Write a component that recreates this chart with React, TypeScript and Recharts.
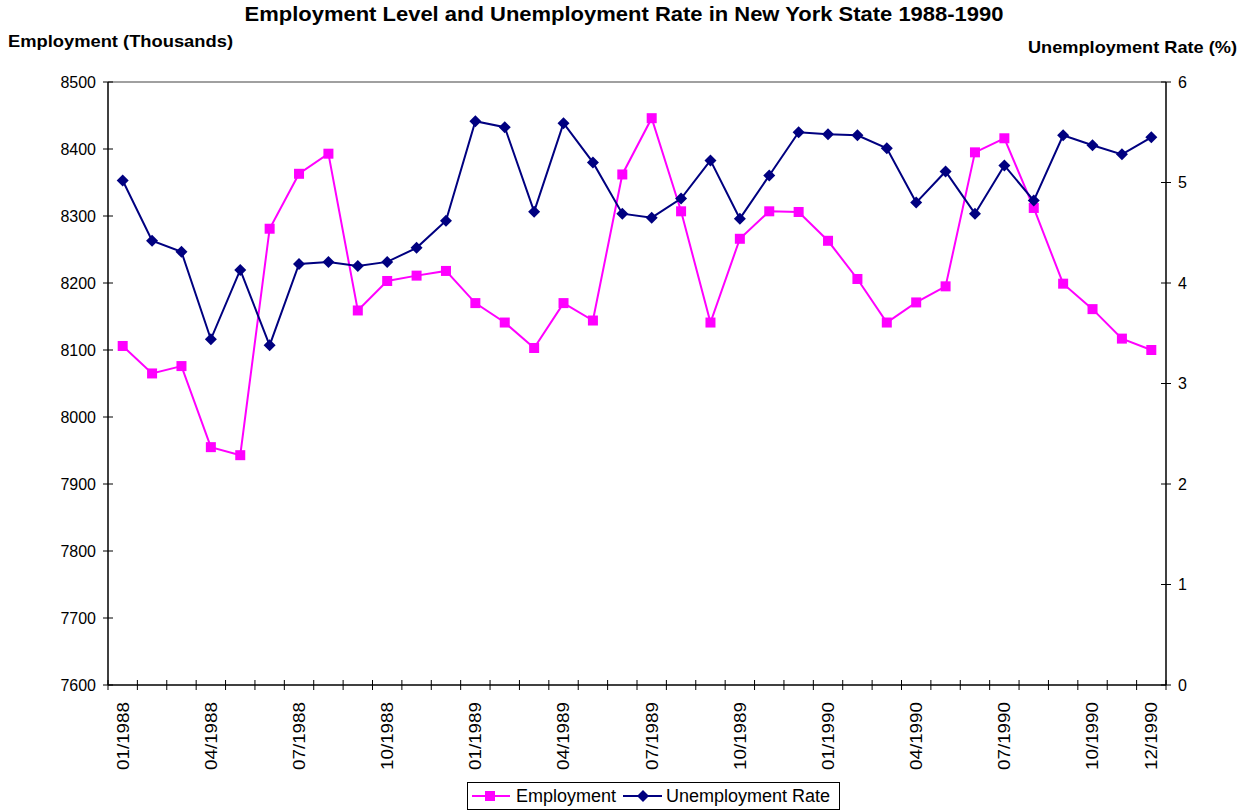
import React from 'react';
import { LineChart, Line, XAxis, YAxis, Legend, ReferenceLine } from 'recharts';

const months = [
  '01/1988', '02/1988', '03/1988', '04/1988', '05/1988', '06/1988',
  '07/1988', '08/1988', '09/1988', '10/1988', '11/1988', '12/1988',
  '01/1989', '02/1989', '03/1989', '04/1989', '05/1989', '06/1989',
  '07/1989', '08/1989', '09/1989', '10/1989', '11/1989', '12/1989',
  '01/1990', '02/1990', '03/1990', '04/1990', '05/1990', '06/1990',
  '07/1990', '08/1990', '09/1990', '10/1990', '11/1990', '12/1990',
];

const employment = [
  8106, 8065, 8076, 7955, 7943, 8281, 8363, 8393, 8159, 8203, 8211, 8218,
  8170, 8141, 8103, 8170, 8144, 8362, 8446, 8307, 8141, 8266, 8307, 8306,
  8263, 8206, 8141, 8171, 8195, 8395, 8416, 8312, 8199, 8161, 8117, 8100,
];

const unemploymentRate = [
  5.02, 4.42, 4.31, 3.44, 4.13, 3.38, 4.19, 4.21, 4.17, 4.21, 4.35, 4.62,
  5.61, 5.55, 4.71, 5.59, 5.2, 4.69, 4.65, 4.84, 5.22, 4.64, 5.07, 5.5,
  5.48, 5.47, 5.34, 4.8, 5.11, 4.69, 5.17, 4.82, 5.47, 5.37, 5.28, 5.45,
];

const labeledMonths = [
  '01/1988', '04/1988', '07/1988', '10/1988',
  '01/1989', '04/1989', '07/1989', '10/1989',
  '01/1990', '04/1990', '07/1990', '10/1990', '12/1990',
];

const leftTicks = [7600, 7700, 7800, 7900, 8000, 8100, 8200, 8300, 8400, 8500];
const rightTicks = [0, 1, 2, 3, 4, 5, 6];

const TITLE = 'Employment Level and Unemployment Rate in New York State 1988-1990';
const LEFT_TITLE = 'Employment (Thousands)';
const RIGHT_TITLE = 'Unemployment Rate (%)';

const data = months.map((m, i) => ({
  month: m,
  employment: employment[i],
  rate: unemploymentRate[i],
}));

const W = 1250;
const H = 812;
const LEFT_W = 108;
const RIGHT_W = 84;
const TOP = 82;
const XAXIS_H = 127;
const plotW = W - LEFT_W - RIGHT_W;
const step = plotW / months.length;
const FONT = '"Liberation Sans", Arial, Helvetica, sans-serif';
const PINK = '#FF00FF';
const NAVY = '#000080';
const AXIS = '#000000';
const X_TICK_SIZE = 5;
const X_TICK_MARGIN = 12;

const XTick = (props: any) => {
  const { x, y, payload, index } = props;
  const axisY = y - X_TICK_SIZE - X_TICK_MARGIN;
  const show = labeledMonths.includes(payload.value);
  return (
    <g>
      <line x1={x - step / 2} x2={x - step / 2} y1={axisY - 5} y2={axisY + 5} stroke={AXIS} strokeWidth={1} />
      {index === months.length - 1 && (
        <line x1={x + step / 2} x2={x + step / 2} y1={axisY - 5} y2={axisY + 5} stroke={AXIS} strokeWidth={1} />
      )}
      {show && (
        <text
          transform={`translate(${x},${y}) rotate(-90)`}
          textAnchor="end"
          dy="0.36em"
          fontFamily={FONT}
          fontSize={16.5}
          fill="#000"
          textLength={68}
          lengthAdjust="spacingAndGlyphs"
        >
          {payload.value}
        </text>
      )}
    </g>
  );
};

const LeftTick = (props: any) => {
  const { x, y, payload } = props;
  return (
    <g>
      <line x1={x + 7} x2={x + 17} y1={y} y2={y} stroke={AXIS} strokeWidth={1} />
      <text x={x} y={y} dy="0.36em" textAnchor="end" fontFamily={FONT} fontSize={16} fill="#000">
        {payload.value}
      </text>
    </g>
  );
};

const RightTick = (props: any) => {
  const { x, y, payload } = props;
  return (
    <g>
      <line x1={x - 17} x2={x - 7} y1={y} y2={y} stroke={AXIS} strokeWidth={1} />
      <text x={x} y={y} dy="0.36em" textAnchor="start" fontFamily={FONT} fontSize={16} fill="#000">
        {payload.value}
      </text>
    </g>
  );
};

const SquareDot = (props: any) => {
  const { cx, cy, index } = props;
  if (cx == null || cy == null) return <g key={`s-${index}`} />;
  return <rect key={`s-${index}`} x={cx - 5} y={cy - 5} width={10} height={10} fill={PINK} stroke="none" />;
};

const DiamondDot = (props: any) => {
  const { cx, cy, index } = props;
  if (cx == null || cy == null) return <g key={`d-${index}`} />;
  return (
    <polygon
      key={`d-${index}`}
      points={`${cx},${cy - 6} ${cx + 6},${cy} ${cx},${cy + 6} ${cx - 6},${cy}`}
      fill={NAVY}
      stroke="none"
    />
  );
};

const LegendBox = () => (
  <div
    style={{
      boxSizing: 'border-box',
      width: 373,
      height: 28,
      border: '1px solid #000',
      background: '#fff',
      display: 'flex',
      alignItems: 'center',
      fontFamily: FONT,
      fontSize: 18,
      color: '#000',
      paddingLeft: 4,
      whiteSpace: 'nowrap',
    }}
  >
    <svg width={38} height={14} style={{ display: 'block' }}>
      <line x1={0} x2={38} y1={7} y2={7} stroke={PINK} strokeWidth={2} />
      <rect x={13} y={2} width={10} height={10} fill={PINK} />
    </svg>
    <span style={{ marginLeft: 6 }}>Employment</span>
    <svg width={39} height={14} style={{ display: 'block', marginLeft: 7 }}>
      <line x1={0} x2={39} y1={7} y2={7} stroke={NAVY} strokeWidth={2} />
      <polygon points="20,1 26,7 20,13 14,7" fill={NAVY} />
    </svg>
    <span style={{ marginLeft: 4 }}>Unemployment Rate</span>
  </div>
);

export default function App() {
  return (
    <div style={{ position: 'absolute', left: 0, top: 0, width: W, height: H, background: '#fff' }}>
      <LineChart
        width={W}
        height={H}
        data={data}
        margin={{ top: TOP, right: 0, bottom: 0, left: 0 }}
      >
        <XAxis
          dataKey="month"
          xAxisId="x"
          height={XAXIS_H}
          interval={0}
          padding={{ left: step / 2, right: step / 2 }}
          axisLine={{ stroke: AXIS, strokeWidth: 1.5 }}
          tickLine={false}
          tickSize={X_TICK_SIZE}
          tickMargin={X_TICK_MARGIN}
          tick={<XTick />}
        />
        <YAxis
          yAxisId="left"
          orientation="left"
          width={LEFT_W}
          domain={[7600, 8500]}
          ticks={leftTicks}
          interval={0}
          axisLine={{ stroke: AXIS, strokeWidth: 1.5 }}
          tickLine={false}
          tickSize={5}
          tickMargin={7}
          tick={<LeftTick />}
        />
        <YAxis
          yAxisId="right"
          orientation="right"
          width={RIGHT_W}
          domain={[0, 6]}
          ticks={rightTicks}
          interval={0}
          axisLine={{ stroke: AXIS, strokeWidth: 1.5 }}
          tickLine={false}
          tickSize={5}
          tickMargin={7}
          tick={<RightTick />}
        />
        <ReferenceLine yAxisId="left" xAxisId="x" y={8500} stroke="#a0a0a0" strokeWidth={2} />
        <Line
          xAxisId="x"
          yAxisId="left"
          type="linear"
          dataKey="employment"
          name="Employment"
          stroke={PINK}
          strokeWidth={2}
          dot={SquareDot}
          activeDot={false}
          isAnimationActive={false}
        />
        <Line
          xAxisId="x"
          yAxisId="right"
          type="linear"
          dataKey="rate"
          name="Unemployment Rate"
          stroke={NAVY}
          strokeWidth={2}
          dot={DiamondDot}
          activeDot={false}
          isAnimationActive={false}
        />
        <Legend
          layout="horizontal"
          verticalAlign="middle"
          align="center"
          content={<LegendBox />}
          wrapperStyle={{ position: 'absolute', left: 467, top: 782, width: 373, height: 28 }}
        />
      </LineChart>
      <svg
        width={W}
        height={H}
        style={{ position: 'absolute', left: 0, top: 0, pointerEvents: 'none' }}
      >
        <text
          x={624}
          y={21}
          textAnchor="middle"
          fontFamily={FONT}
          fontWeight="bold"
          fontSize={19.5}
          textLength={759}
          lengthAdjust="spacingAndGlyphs"
          fill="#000"
        >
          {TITLE}
        </text>
        <text
          x={8}
          y={47}
          fontFamily={FONT}
          fontWeight="bold"
          fontSize={17}
          textLength={225}
          lengthAdjust="spacingAndGlyphs"
          fill="#000"
        >
          {LEFT_TITLE}
        </text>
        <text
          x={1028}
          y={53}
          fontFamily={FONT}
          fontWeight="bold"
          fontSize={17}
          textLength={209}
          lengthAdjust="spacingAndGlyphs"
          fill="#000"
        >
          {RIGHT_TITLE}
        </text>
      </svg>
    </div>
  );
}
